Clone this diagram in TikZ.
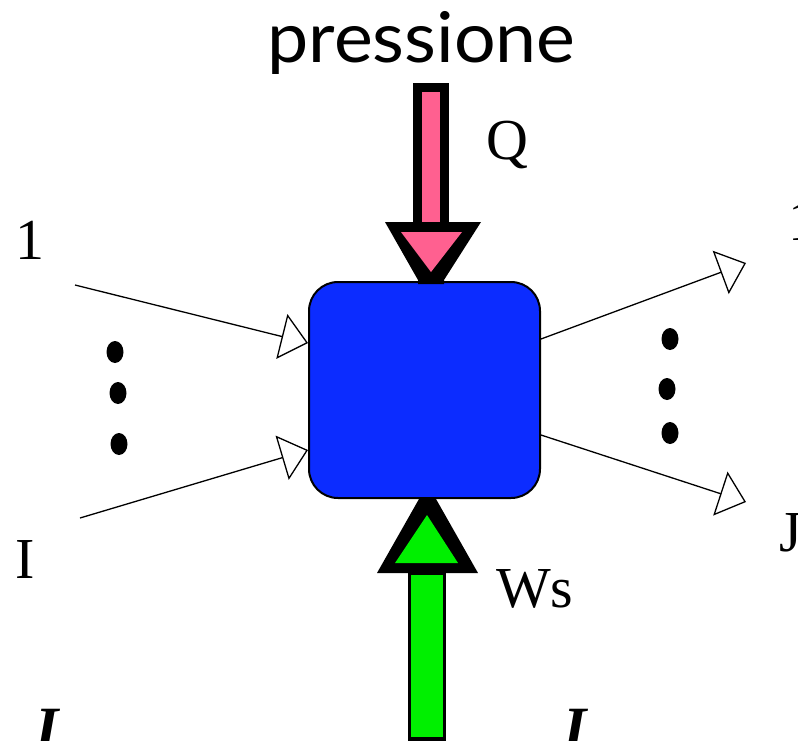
\documentclass[tikz,border=0pt]{standalone}
\usepackage{fontspec}
\setmainfont{Liberation Serif}
\newfontfamily\presfont{Lato}
\usetikzlibrary{arrows.meta}
\definecolor{pinkQ}{RGB}{255,96,144}
\definecolor{boxblue}{RGB}{12,44,255}
\definecolor{greenW}{RGB}{0,240,0}
\tikzset{
  lbl/.style={inner sep=0pt, anchor=base west, font=\fontsize{58}{58}\selectfont},
  biglbl/.style={inner sep=0pt, anchor=base west, font=\fontsize{60}{60}\selectfont\bfseries\itshape},
  flow/.style={line width=1.3pt, -{Triangle[open,length=27pt,width=46pt,line width=1.3pt]}},
  dotm/.style={fill=black},
}
\begin{document}
\begin{tikzpicture}[x=1pt,y=-1pt]
\useasboundingbox (0,0) rectangle (798,740);

% title
\node[inner sep=0pt, anchor=base, xscale=1.05, font=\presfont\fontsize{70}{70}\selectfont] (title) at (421.5,62) {pressione};

% central box
\node[draw=black, line width=2pt, fill=boxblue, rounded corners=29pt, minimum width=231pt, minimum height=216pt, inner sep=0pt] (box) at (424.5,390) {};

% Q arrow (pink, down)
\fill[black] (413,83) rectangle (449,232);
\fill[pinkQ] (422,92) rectangle (440,223);
\fill[black] (385,222) -- (481,222) -- (444,280) -- (444,284) -- (418,284) -- (418,280) -- cycle;
\fill[pinkQ] (401,232) -- (462,232) -- (431,272) -- cycle;
\node[lbl] (Q) at (486,159) {Q};

% Ws arrow (green, up)
\fill[black] (408,565) rectangle (446,741);
\fill[greenW] (411,575) rectangle (443,737);
\fill[black] (377,573) -- (478,573) -- (436,499) -- (419,499) -- cycle;
\fill[greenW] (395,563) -- (458,563) -- (427,515) -- cycle;
\node[lbl] (Ws) at (496,607) {Ws};

% inputs
\coordinate (in1) at (75,285);
\coordinate (inI) at (80,518);
\draw[flow] (in1) -- (box.west |- 0,343);
\draw[flow] (inI) -- (box.west |- 0,450);
\node[lbl] (l1) at (15,259) {1};
\node[lbl] (lI) at (15,578) {I};
\fill[dotm] (115,352) ellipse [x radius=8.5pt, y radius=11pt];
\fill[dotm] (118,393) ellipse [x radius=8.5pt, y radius=11pt];
\fill[dotm] (119,444) ellipse [x radius=8.5pt, y radius=11pt];

% outputs
\coordinate (out1) at (746,263);
\coordinate (outJ) at (746,502);
\draw[flow] (box.east |- 0,339) -- (out1);
\draw[flow] (box.east |- 0,435) -- (outJ);
\node[lbl] (r1) at (788,240) {1};
\node[lbl] (rJ) at (779,551) {J};
\fill[dotm] (670,339) ellipse [x radius=8.5pt, y radius=11pt];
\fill[dotm] (667,389) ellipse [x radius=8.5pt, y radius=11pt];
\fill[dotm] (670,433) ellipse [x radius=8.5pt, y radius=11pt];

% bottom labels
\node[biglbl] (bI1) at (35,748) {I};
\node[biglbl] (bI2) at (563,748) {I};
\end{tikzpicture}
\end{document}
